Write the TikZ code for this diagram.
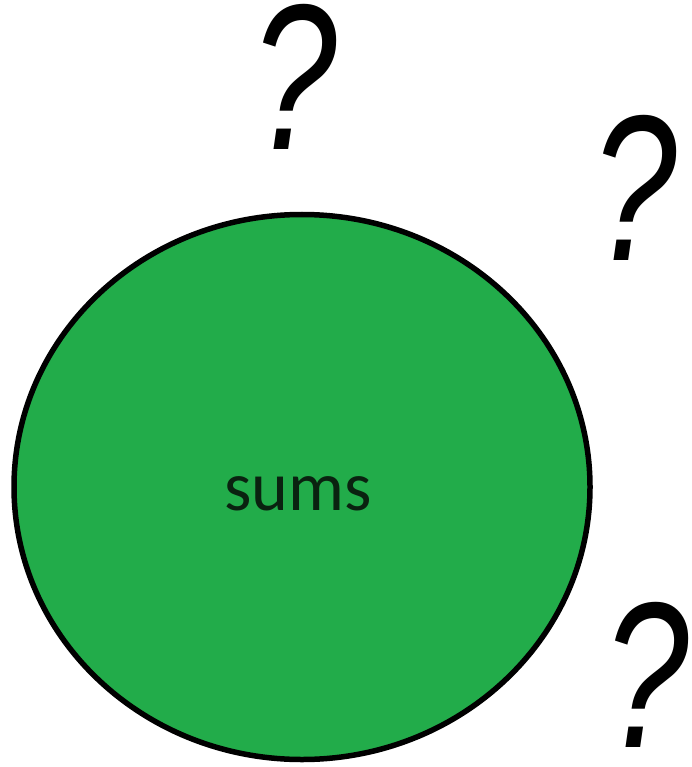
\documentclass[tikz,border=0pt]{standalone}
\usepackage{fontspec}
\setmainfont{Carlito}
\newfontfamily\qfont{Liberation Sans}
\usetikzlibrary{shapes.geometric, positioning, calc}
\definecolor{sumgreen}{RGB}{34,172,74}
\definecolor{sumtext}{RGB}{10,34,16}

\newcommand{\qglyph}{\scalebox{0.74}[1]{?}}

\begin{document}
\begin{tikzpicture}[x=1pt, y=-1pt,
  blob/.style={ellipse, draw=black, fill=sumgreen, line width=5.5pt,
               minimum width=576pt, minimum height=545pt, inner sep=0pt},
  qmark/.style={anchor=base, inner sep=0pt,
                font=\qfont\itshape\fontsize{208}{208}\selectfont},
  label/.style={anchor=base, inner sep=0pt, text=sumtext,
                font=\fontsize{70}{70}\selectfont}
]
  \useasboundingbox (0,0) rectangle (691,767);
  \node[blob] (sums) at (302,487) {};
  \node[label] (sumstext) at (298,510) {sums};

  % question marks round the circle
  \node[qmark] (qtop)   at (294,150) {\qglyph};
  \node[qmark] (qright) at (634,260) {\qglyph};
  \node[qmark] (qlow)   at (646,747) {\qglyph};
\end{tikzpicture}
\end{document}
